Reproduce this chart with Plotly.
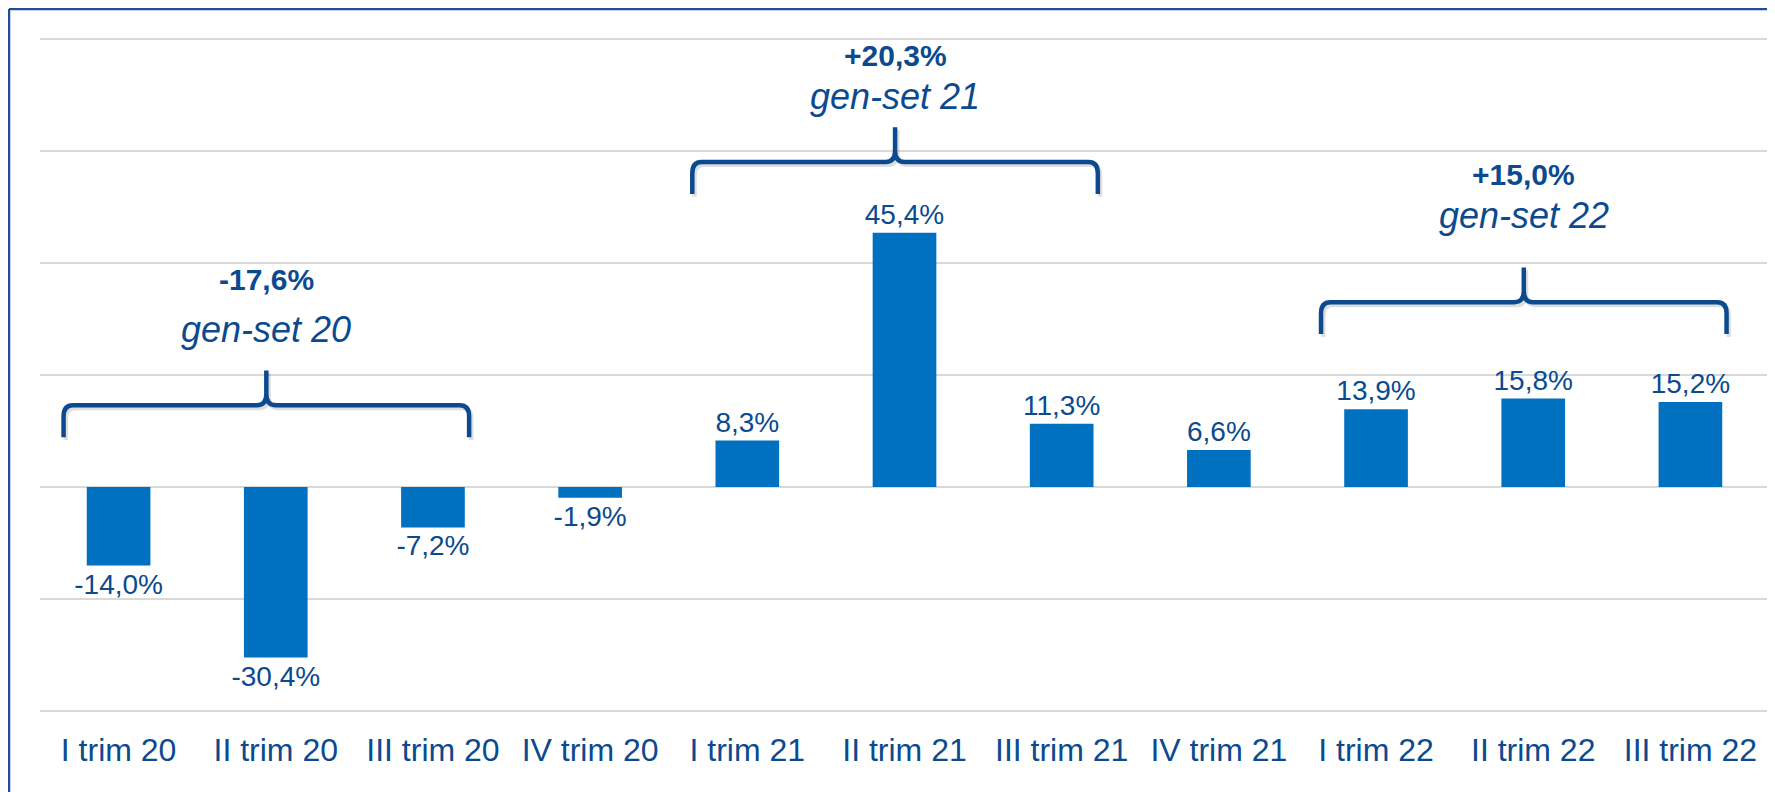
import plotly.graph_objects as go

# quarterly change (%)
quarters = ["I trim 20", "II trim 20", "III trim 20", "IV trim 20",
            "I trim 21", "II trim 21", "III trim 21", "IV trim 21",
            "I trim 22", "II trim 22", "III trim 22"]
changes = [-14.0, -30.4, -7.2, -1.9, 8.3, 45.4, 11.3, 6.6, 13.9, 15.8, 15.2]

# gen-set groups: first / last quarter index, cumulative change, caption
group_first = [0, 4, 8]
group_last = [2, 6, 10]
group_change = ["-17,6%", "+20,3%", "+15,0%"]
group_name = ["gen-set 20", "gen-set 21", "gen-set 22"]

# bracket placement (layout only): horizontal level of each brace, in y units
brace_level = [14.6, 58.0, 33.0]
bold_offset = [22.5, 19.0, 22.8]
italic_offset = [13.5, 11.6, 15.4]

BAR = "#0070C0"
NAVY = "#0b4a8f"
FONT = "Liberation Sans, Arial, sans-serif"

# plot area in page pixels (the page body adds an 8px offset)
L, R, T, B = 40, 1769, 37, 713


def pct(v):
    return f"{v:.1f}%".replace(".", ",")


def brace_path(x0, x1, h, arm=5.7, tip=6.2, rx=0.06, ry=2.0, dx=0.0, dy=0.0):
    xm = (x0 + x1) / 2
    x0, x1, xm, h = x0 + dx, x1 + dx, xm + dx, h + dy
    e, t = h - arm, h + tip
    return (
        f"M {x0},{e} L {x0},{h - ry} Q {x0},{h} {x0 + rx},{h} "
        f"L {xm - rx},{h} Q {xm},{h} {xm},{h + ry} L {xm},{t} "
        f"M {xm},{t} L {xm},{h + ry} Q {xm},{h} {xm + rx},{h} "
        f"L {x1 - rx},{h} Q {x1},{h} {x1},{h - ry} L {x1},{e}"
    )


def paper(px, py):
    return (px - L) / (R - L), (B - py) / (B - T)


xs = list(range(len(quarters)))

fig = go.Figure()
fig.add_trace(go.Bar(
    x=xs, y=changes,
    marker=dict(color=BAR, line=dict(width=0)),
    text=[pct(v) for v in changes], textposition="outside",
    textfont=dict(family=FONT, size=28, color=NAVY),
    constraintext="none", cliponaxis=False,
    hoverinfo="skip",
))

shapes = []
annotations = []

for i in range(len(group_first)):
    x0 = group_first[i] - 0.35
    x1 = group_last[i] + 0.23
    xm = (x0 + x1) / 2
    h = brace_level[i]
    # soft shadow, then the brace itself
    shapes.append(dict(type="path", xref="x", yref="y",
                       path=brace_path(x0, x1, h, dx=0.014, dy=-0.5),
                       line=dict(color="rgba(0,0,0,0.13)", width=4.5), layer="above"))
    shapes.append(dict(type="path", xref="x", yref="y",
                       path=brace_path(x0, x1, h),
                       line=dict(color=NAVY, width=4.5), layer="above"))
    annotations.append(dict(x=xm, y=h + bold_offset[i], xref="x", yref="y",
                            text=f"<b>{group_change[i]}</b>", showarrow=False,
                            font=dict(family=FONT, size=30, color=NAVY)))
    annotations.append(dict(x=xm, y=h + italic_offset[i], xref="x", yref="y",
                            text=f"<i>{group_name[i]}</i>", showarrow=False,
                            font=dict(family=FONT, size=36, color=NAVY)))

# slide frame (left and top edges)
fx, fy = paper(9, 9)
shapes.append(dict(type="line", xref="paper", yref="paper",
                   x0=fx, x1=fx, y0=-0.3, y1=fy,
                   line=dict(color="#1f4e96", width=2.5)))
shapes.append(dict(type="line", xref="paper", yref="paper",
                   x0=fx, x1=1.1, y0=fy, y1=fy,
                   line=dict(color="#1f4e96", width=2.5)))

fig.update_layout(
    width=1775, height=792,
    margin=dict(l=L - 8, r=1775 - R + 8, t=T - 8, b=792 - B + 8),
    paper_bgcolor="white", plot_bgcolor="white",
    bargap=0.595, showlegend=False,
    shapes=shapes, annotations=annotations,
    font=dict(family=FONT, color=NAVY),
    xaxis=dict(
        range=[-0.5, 10.5], tickmode="array", tickvals=xs, ticktext=quarters,
        showgrid=False, zeroline=False, showline=False,
        ticks="outside", ticklen=9, tickcolor="rgba(0,0,0,0)",
        tickfont=dict(family=FONT, size=32, color=NAVY),
    ),
    yaxis=dict(
        range=[-40.3, 80.3], dtick=20, tick0=0,
        showgrid=True, gridcolor="#d9d9d9", gridwidth=1.6,
        zeroline=True, zerolinecolor="#d9d9d9", zerolinewidth=1.6,
        showticklabels=False, showline=False,
    ),
)

fig.write_html("out.html")
